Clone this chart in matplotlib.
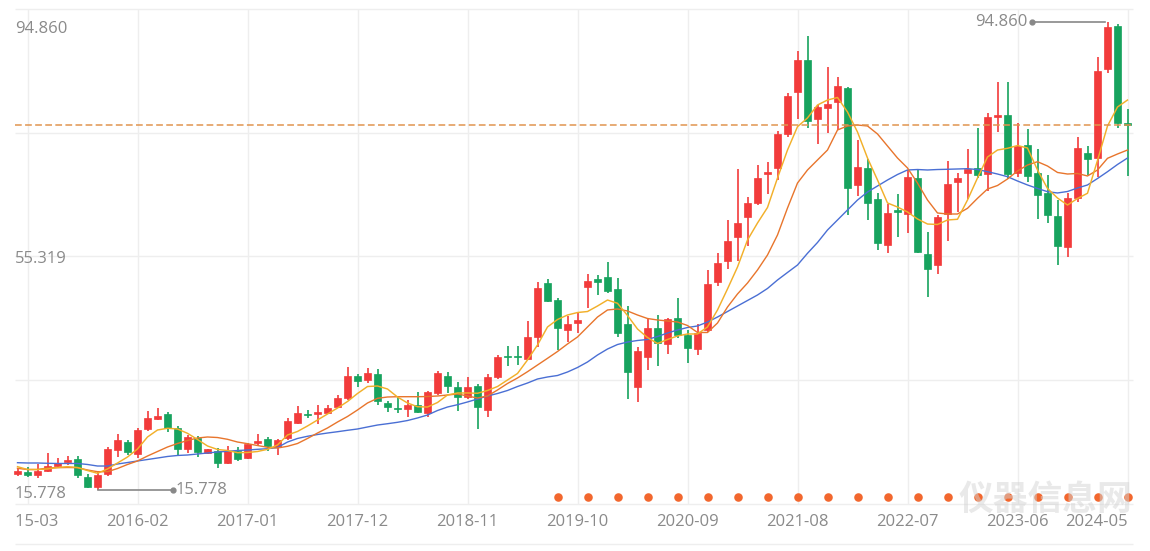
import numpy as np
import pandas as pd
import matplotlib
matplotlib.use("Agg")
import matplotlib.pyplot as plt
import matplotlib.transforms as mtransforms

# ---------------- data ----------------
months = [str(p) for p in pd.period_range("2015-02", periods=112, freq="M")]

open_ = [18.48, 18.82, 18.39, 19.07, 19.96, 20.54, 21.10, 18.14, 16.45, 18.56,
         22.61, 23.88, 22.02, 26.16, 27.93, 28.61, 26.33, 22.70, 24.72, 22.11,
         22.45, 20.47, 22.45, 21.21, 23.74, 24.42, 23.04, 24.59, 27.20, 28.77,
         28.69, 28.91, 29.82, 31.34, 35.16, 34.43, 35.39, 30.60, 29.70, 29.48,
         30.21, 28.91, 32.19, 35.16, 33.30, 31.51, 33.42, 29.36, 34.94, 38.48,
         38.53, 37.92, 41.74, 50.75, 47.93, 42.87, 44.00, 50.08, 51.43, 51.77,
         49.76, 43.88, 33.30, 38.36, 43.16, 40.59, 44.85, 42.03, 39.61, 42.87,
         51.02, 54.57, 58.52, 61.89, 64.36, 69.15, 70.27, 75.90, 83.09, 88.45,
         78.44, 80.29, 81.41, 83.77, 67.35, 70.22, 64.90, 57.22, 63.13, 62.45,
         68.58, 55.70, 53.84, 62.45, 67.90, 69.32, 70.16, 69.20, 78.77, 79.16,
         69.32, 74.08, 69.42, 65.94, 62.11, 56.93, 65.10, 72.70, 71.85, 86.88,
         94.19, 77.75]
high = [19.41, 19.74, 20.25, 22.19, 21.18, 21.60, 21.65, 18.56, 18.82, 23.12,
        25.26, 24.30, 26.33, 29.20, 29.70, 28.98, 26.67, 25.09, 24.97, 22.83,
        22.90, 23.37, 23.12, 23.74, 25.31, 24.80, 24.55, 28.02, 30.04, 29.36,
        30.21, 30.21, 31.90, 36.57, 35.39, 36.47, 36.23, 30.94, 31.61, 31.05,
        32.46, 32.57, 36.00, 35.78, 34.15, 34.89, 33.76, 35.39, 38.65, 40.25,
        40.17, 44.44, 51.02, 51.43, 48.32, 45.23, 45.69, 52.32, 52.15, 54.40,
        51.60, 46.92, 39.95, 44.90, 45.40, 44.96, 48.22, 42.87, 43.93, 52.99,
        55.87, 61.44, 70.00, 65.27, 70.72, 71.28, 76.46, 82.93, 89.97, 92.50,
        80.85, 87.21, 85.53, 83.94, 74.94, 71.68, 65.94, 64.14, 65.83, 69.88,
        69.88, 59.46, 62.28, 71.45, 69.42, 73.37, 76.92, 79.45, 84.78, 84.78,
        77.86, 76.75, 73.37, 69.03, 64.81, 65.94, 75.40, 73.93, 88.90, 94.86,
        94.52, 80.12]
low = [18.23, 18.06, 17.97, 18.82, 19.69, 20.00, 17.84, 16.20, 15.778, 18.23,
       21.48, 21.77, 21.26, 25.90, 27.76, 25.73, 21.77, 22.16, 21.43, 21.94,
       19.63, 20.30, 20.84, 21.10, 23.37, 22.45, 21.85, 24.38, 27.00, 27.99,
       27.08, 28.81, 29.65, 31.05, 33.20, 33.87, 30.21, 29.08, 28.91, 28.14,
       28.81, 28.23, 31.90, 32.19, 29.25, 31.17, 26.11, 28.14, 34.60, 36.79,
       36.96, 37.81, 40.05, 47.65, 39.49, 40.90, 42.31, 46.53, 48.78, 49.17,
       41.77, 31.22, 30.77, 36.12, 36.79, 38.90, 41.52, 37.35, 38.65, 42.53,
       50.38, 53.11, 54.57, 57.05, 63.97, 65.83, 68.19, 75.50, 78.44, 76.92,
       74.27, 76.07, 76.63, 62.28, 65.49, 61.44, 56.37, 55.92, 58.52, 59.19,
       55.82, 48.49, 52.32, 57.94, 62.84, 64.93, 68.48, 66.33, 76.34, 68.31,
       68.65, 67.90, 61.56, 60.88, 53.84, 55.24, 64.53, 69.03, 68.75, 86.20,
       76.90, 68.87]
close = [19.07, 18.39, 18.99, 19.83, 20.34, 21.01, 18.39, 16.45, 18.39, 22.70,
         24.22, 22.33, 26.07, 28.02, 28.32, 26.41, 22.78, 24.85, 22.28, 22.70,
         20.47, 22.45, 21.10, 23.58, 24.13, 23.29, 24.38, 27.59, 28.81, 28.50,
         29.03, 29.76, 31.34, 35.11, 34.32, 35.56, 30.94, 29.92, 29.48, 30.21,
         29.08, 32.35, 35.56, 33.42, 31.51, 33.20, 29.82, 34.99, 38.26, 38.23,
         38.26, 41.74, 50.01, 47.82, 43.26, 43.88, 44.56, 51.19, 51.02, 49.45,
         42.28, 35.86, 39.38, 43.21, 40.67, 44.68, 42.11, 39.78, 42.36, 50.63,
         54.13, 57.94, 60.98, 64.36, 68.61, 69.49, 75.95, 82.37, 88.45, 78.20,
         80.46, 81.02, 84.06, 66.79, 70.44, 64.36, 57.50, 62.57, 62.79, 68.75,
         56.09, 53.11, 61.89, 67.52, 68.48, 70.00, 69.03, 78.88, 79.16, 69.20,
         73.90, 68.87, 65.66, 62.28, 57.05, 65.10, 73.54, 71.68, 86.64, 94.07,
         77.75, 77.39]
ma5 = [19.80, 19.32, 19.32, 19.41, 19.66, 19.80, 19.66, 19.15, 18.68, 19.41,
       20.42, 21.43, 22.78, 24.81, 25.99, 26.28, 26.16, 25.43, 24.39, 23.29,
       22.70, 22.53, 22.16, 22.19, 22.36, 22.73, 23.46, 25.15, 25.74, 26.67,
       27.68, 28.69, 29.70, 30.80, 32.15, 33.33, 33.42, 32.91, 31.56, 30.55,
       29.92, 29.87, 30.63, 31.90, 32.24, 32.24, 32.19, 32.66, 33.33, 34.43,
       35.53, 37.81, 40.34, 43.38, 44.64, 45.40, 45.82, 45.99, 46.92, 47.93,
       47.38, 45.32, 43.04, 41.60, 40.59, 41.27, 41.86, 42.20, 42.20, 43.38,
       46.25, 49.80, 53.50, 58.06, 60.93, 63.55, 68.53, 73.25, 77.19, 78.66,
       80.85, 81.69, 82.12, 79.67, 76.29, 71.90, 68.19, 64.31, 63.63, 62.79,
       61.61, 60.76, 60.68, 61.44, 61.56, 64.81, 68.53, 72.07, 73.25, 73.54,
       74.01, 73.59, 69.88, 66.76, 65.15, 63.97, 65.07, 65.95, 71.50, 77.31,
       80.51, 81.69]
ma10 = [19.52, 19.32, 19.32, 19.58, 19.63, 19.66, 19.63, 19.24, 18.95, 18.95,
        19.49, 20.17, 20.76, 21.60, 22.36, 23.12, 23.71, 24.22, 24.64, 24.81,
        24.72, 24.42, 23.96, 23.68, 23.37, 23.07, 22.95, 23.24, 23.71, 24.56,
        25.48, 26.33, 27.34, 28.27, 29.37, 30.55, 31.34, 31.56, 31.61, 31.61,
        31.61, 31.64, 31.73, 31.90, 32.07, 31.73, 31.39, 31.73, 32.74, 33.84,
        34.77, 35.83, 36.96, 38.09, 39.24, 40.51, 41.69, 43.38, 45.06, 46.25,
        46.42, 46.08, 45.40, 44.81, 44.56, 44.39, 44.22, 43.63, 42.45, 42.45,
        44.05, 46.75, 48.95, 50.80, 53.00, 55.53, 58.91, 63.46, 67.68, 69.88,
        71.57, 73.25, 76.63, 77.31, 77.47, 77.31, 75.96, 73.93, 71.90, 70.22,
        67.68, 64.81, 62.62, 62.45, 62.45, 63.41, 65.10, 66.67, 67.26, 68.36,
        69.71, 70.72, 71.28, 70.55, 69.46, 69.20, 69.29, 68.87, 69.88, 71.85,
        72.58, 73.25]
ma20 = [20.47, 20.42, 20.42, 20.37, 20.34, 20.34, 20.34, 20.17, 19.91, 19.91,
        20.25, 20.50, 20.76, 21.01, 21.26, 21.52, 21.69, 21.77, 21.94, 22.11,
        22.28, 22.39, 22.53, 22.61, 22.73, 22.83, 23.04, 23.96, 24.56, 24.93,
        25.23, 25.48, 25.70, 25.94, 26.16, 26.50, 26.83, 27.05, 27.29, 27.59,
        28.02, 28.52, 29.28, 29.87, 30.26, 30.72, 31.22, 31.73, 32.15, 32.66,
        33.33, 33.92, 34.60, 34.94, 35.19, 35.78, 36.54, 37.47, 38.65, 39.66,
        40.42, 40.84, 41.10, 41.27, 41.77, 42.36, 42.87, 43.29, 43.55, 44.22,
        45.06, 45.99, 46.92, 47.85, 48.78, 49.88, 51.31, 52.58, 53.84, 55.82,
        57.64, 59.75, 61.44, 63.13, 64.81, 66.16, 67.18, 68.19, 69.12, 69.88,
        69.96, 69.88, 69.96, 70.00, 70.05, 70.10, 69.96, 69.59, 69.20, 68.75,
        68.02, 67.35, 66.76, 66.22, 66.00, 66.25, 66.84, 67.35, 68.44, 69.59,
        70.81, 71.90]

x_labels = ["2015-03", "2016-02", "2017-01", "2017-12", "2018-11", "2019-10",
            "2020-09", "2021-08", "2022-07", "2023-06", "2024-05"]
event_months = ["2019-08", "2019-11", "2020-02", "2020-05", "2020-08", "2020-11",
                "2021-02", "2021-05", "2021-08", "2021-11", "2022-02", "2022-05",
                "2022-08", "2022-11", "2023-02", "2023-05", "2023-08", "2023-11",
                "2024-02", "2024-05"]

# ---------------- style ----------------
UP = "#f23b3b"
DOWN = "#17a35e"
C_MA5 = "#f2b02a"
C_MA10 = "#e8752c"
C_MA20 = "#4a6fd4"
GRID = "#eeeeee"
TXT = "#8a8a8a"
plt.rcParams["font.family"] = ["Open Sans", "DejaVu Sans"]

fig = plt.figure(figsize=(11.5, 5.51), dpi=100)
fig.patch.set_facecolor("white")
ax = fig.add_axes([0, 0, 1, 1])
ax.set_xlim(-1.75, 113.25)
ax.set_ylim(5.565, 98.574)
ax.axis("off")

x = np.arange(len(months))
o = np.array(open_); c = np.array(close); h = np.array(high); l = np.array(low)

# grid
grid_lo, grid_hi = 13.5, 97.06
grid_vals = np.linspace(grid_lo, grid_hi, 5)
ax.hlines(grid_vals, -0.25, 111.55, color=GRID, lw=1.0, zorder=0)
ax.hlines([6.75], -0.25, 111.55, color=GRID, lw=1.0, zorder=0)
label_idx = [months.index(m) for m in x_labels]
ax.vlines(label_idx, grid_lo, grid_hi, color=GRID, lw=1.0, zorder=0)

# candles
up = c >= o
cols = np.where(up, UP, DOWN)
ax.vlines(x, l, h, colors=cols, lw=1.2, zorder=2)
bottom = np.minimum(o, c)
height = np.maximum(np.abs(c - o), 0.2)
ax.bar(x, height, bottom=bottom, width=0.66, color=cols, edgecolor=cols,
       linewidth=0.5, zorder=2)

# moving averages
ax.plot(x, ma20, color=C_MA20, lw=1.0, zorder=3)
ax.plot(x, ma10, color=C_MA10, lw=1.0, zorder=3)
ax.plot(x, ma5, color=C_MA5, lw=1.05, zorder=3)

# last price line
ax.hlines([close[-1]], -0.25, 111.55, color="#e0944f", lw=1.1,
          linestyles=(0, (4.4, 2.2)), zorder=4)

# y labels: max / mid / min
ymax = max(high); ymin = min(low); ymid = (ymax + ymin) / 2
for v, nudge in ((ymax, 1.15), (ymid, 0.4), (ymin, 0.6)):
    ax.text(-0.25, v - nudge, f"{v:.3f}", ha="left", va="center",
            fontsize=12, color=TXT, zorder=5)

# max / min markers
imax = int(np.argmax(h)); imin = int(np.argmin(l))
ax.plot([imax - 0.25, imax - 7.6], [ymax, ymax], color="#888888", lw=1.2, zorder=5)
ax.plot([imax - 7.6], [ymax], "o", color="#888888", ms=3.5, zorder=5)
ax.text(imax - 8.0, ymax, f"{ymax:.3f}", ha="right", va="center",
        fontsize=12, color=TXT, zorder=5)
ax.plot([imin, imin + 7.5], [ymin, ymin], color="#888888", lw=1.2, zorder=5)
ax.plot([imin + 7.5], [ymin], "o", color="#888888", ms=3.5, zorder=5)
ax.text(imin + 7.85, ymin, f"{ymin:.3f}", ha="left", va="center",
        fontsize=12, color=TXT, zorder=5)

# event dots and x labels (blended: x data, y axes fraction)
blend = mtransforms.blended_transform_factory(ax.transData, ax.transAxes)
ev_idx = [months.index(m) for m in event_months]
ax.scatter(ev_idx, [0.098] * len(ev_idx), s=38, color="#f2672e",
           transform=blend, zorder=4, linewidths=0)
clip_bbox = mtransforms.Bbox.from_extents(15, 0, 1150, 551)
for k, (lbl, ix) in enumerate(zip(x_labels, label_idx)):
    ha = "right" if k == len(x_labels) - 1 else "center"
    t = ax.text(ix, 0.053, lbl, transform=blend, ha=ha, va="center",
                fontsize=12, color=TXT)
    t.set_clip_box(clip_bbox)
    t.set_clip_on(True)

# watermark
ax.text(111.5, 0.094, "仪器信息网", transform=blend, ha="right", va="center",
        fontsize=25, fontweight="bold", color="#d4d4d4", alpha=0.5,
        family=["Noto Sans CJK SC", "DejaVu Sans"], zorder=6)

fig.savefig("out.png", dpi=100, facecolor="white")
